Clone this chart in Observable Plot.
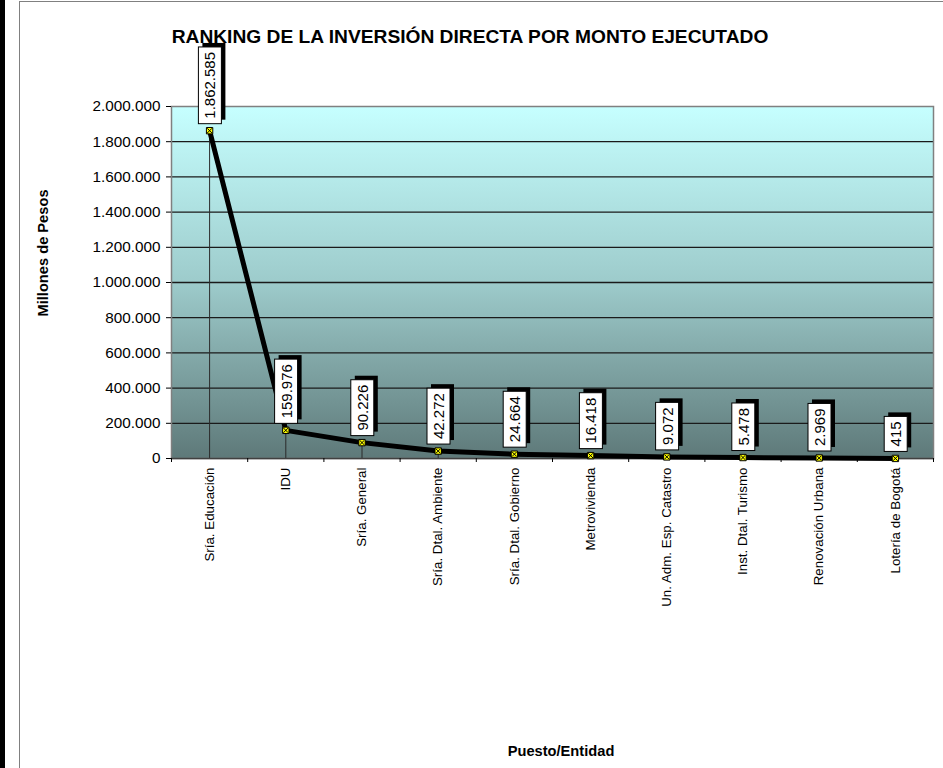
<!DOCTYPE html>
<html><head><meta charset="utf-8">
<script src="https://cdn.jsdelivr.net/npm/d3@7"></script>
<script src="https://cdn.jsdelivr.net/npm/@observablehq/plot@0.6"></script>
<style>
body{margin:0;background:#fff;}
#wrap{position:relative;width:943px;height:768px;overflow:hidden;font-family:"Liberation Sans",Arial,sans-serif;color:#000;}
#wrap svg{position:absolute;left:0;top:0;}
.deco{position:absolute;}
</style>
</head><body><div id="wrap"></div>
<script>
const categories = ["Sría. Educación","IDU","Sría. General","Sría. Dtal. Ambiente","Sría. Dtal. Gobierno","Metrovivienda","Un. Adm. Esp. Catastro","Inst. Dtal. Turismo","Renovación Urbana","Lotería de Bogotá"];
const values = [1862585,159976,90226,42272,24664,16418,9072,5478,2969,415];
const yTicks = [0,200000,400000,600000,800000,1000000,1200000,1400000,1600000,1800000,2000000];
const titleText = "RANKING DE LA INVERSIÓN DIRECTA POR MONTO EJECUTADO";
const xTitle = "Puesto/Entidad";
const yTitle = "Millones de Pesos";

const loc = d3.formatLocale({decimal:",", thousands:".", grouping:[3], currency:["$",""]});
const fmt = loc.format(",d");
const data = categories.map((c, i) => ({i, c, v: values[i]}));

const chart = Plot.plot({
  width: 943, height: 768,
  marginLeft: 171, marginRight: 10, marginTop: 106, marginBottom: 310,
  style: {fontFamily: "Liberation Sans, Arial, sans-serif", background: "transparent", color: "#000", overflow: "visible"},
  x: {type: "linear", domain: [-0.5, 9.5]},
  y: {domain: [0, 2000000]},
  marks: [
    Plot.frame({fill: "url(#bgGrad)", stroke: null}),
    Plot.ruleY(yTicks.slice(1, -1), {stroke: "#1a1a1a", strokeWidth: 1.3}),
    Plot.frame({stroke: "#808080", strokeWidth: 1.5}),
    Plot.ruleX(data, {x: "i", y1: 0, y2: "v", stroke: "#2a2a2a", strokeWidth: 1}),
    Plot.ruleY([0], {stroke: "#404040", strokeWidth: 1.5}),
    Plot.axisY({ticks: yTicks, tickFormat: fmt, tickSize: 5, tickPadding: 6, fontSize: 15.3, label: null}),
    Plot.axisX({ticks: d3.range(-0.5, 10, 1), tickSize: 4, tickFormat: () => "", label: null}),
    Plot.axisX({ticks: d3.range(10), tickFormat: i => categories[i], tickRotate: -90, tickSize: 0, tickPadding: 9, fontSize: 13.33, label: null}),
    Plot.line(data, {x: "i", y: "v", stroke: "#000", strokeWidth: 5, strokeLinejoin: "round"}),
    Plot.dot(data, {x: "i", y: "v", symbol: "square", r: 3.6, fill: "#ffff00", stroke: "#000", strokeWidth: 1}),
    Plot.dot(data, {x: "i", y: "v", symbol: "times", r: 2.3, stroke: "#000", strokeWidth: 1}),
    Plot.text(data, {x: "i", y: "v", text: d => fmt(d.v), rotate: -90, textAnchor: "start", dy: -12, dx: 1, fontSize: 15, fill: "#000"})
  ]
});

const wrap = document.getElementById("wrap");
wrap.appendChild(chart);
const svg = chart.tagName.toLowerCase() === "svg" ? chart : chart.querySelector("svg");
const ns = "http://www.w3.org/2000/svg";

// gradient background
const defs = document.createElementNS(ns, "defs");
defs.innerHTML = '<linearGradient id="bgGrad" x1="0" y1="0" x2="0" y2="1">' +
  '<stop offset="0" stop-color="#c6ffff"/>' +
  '<stop offset="0.5" stop-color="#9dcbcb"/>' +
  '<stop offset="1" stop-color="#5e7979"/></linearGradient>';
svg.insertBefore(defs, svg.firstChild);

// decorations & titles
function addDiv(style, text) {
  const d = document.createElement("div");
  d.className = "deco";
  Object.assign(d.style, style);
  if (text) d.textContent = text;
  wrap.appendChild(d);
  return d;
}
addDiv({left: "0px", top: "0px", width: "5px", height: "768px", background: "#000"});
addDiv({left: "19px", top: "1px", width: "960px", height: "800px", border: "1px solid #808080", boxSizing: "border-box"});
addDiv({left: "0px", top: "27px", width: "940px", textAlign: "center", fontWeight: "bold", fontSize: "19.2px", lineHeight: "1", whiteSpace: "nowrap"}, titleText);
addDiv({left: "461px", top: "744px", width: "200px", textAlign: "center", fontWeight: "bold", fontSize: "14.67px", lineHeight: "1", whiteSpace: "nowrap"}, xTitle);
addDiv({left: "-57px", top: "245px", width: "200px", height: "16px", lineHeight: "16px", textAlign: "center", fontWeight: "bold", fontSize: "14.67px", whiteSpace: "nowrap", transform: "rotate(-90deg)"}, yTitle);

// label boxes with shadow (value labels are the text mark's group)
const lg = svg.querySelector('g[aria-label="text"]');
if (lg) {
  const sr = svg.getBoundingClientRect();
  const boxes = document.createElementNS(ns, "g");
  for (const t of lg.querySelectorAll("text")) {
    const r = t.getBoundingClientRect();
    const x = r.left - sr.left - 3, y = r.top - sr.top - 5, w = r.width + 6, h = r.height + 10;
    const sh = document.createElementNS(ns, "rect");
    sh.setAttribute("x", x + 4); sh.setAttribute("y", y - 4);
    sh.setAttribute("width", w); sh.setAttribute("height", h);
    sh.setAttribute("fill", "#000");
    boxes.appendChild(sh);
    const bx = document.createElementNS(ns, "rect");
    bx.setAttribute("x", x); bx.setAttribute("y", y);
    bx.setAttribute("width", w); bx.setAttribute("height", h);
    bx.setAttribute("fill", "#fff"); bx.setAttribute("stroke", "#000"); bx.setAttribute("stroke-width", 1);
    boxes.appendChild(bx);
  }
  lg.parentNode.insertBefore(boxes, lg);
}
</script>
</body></html>
